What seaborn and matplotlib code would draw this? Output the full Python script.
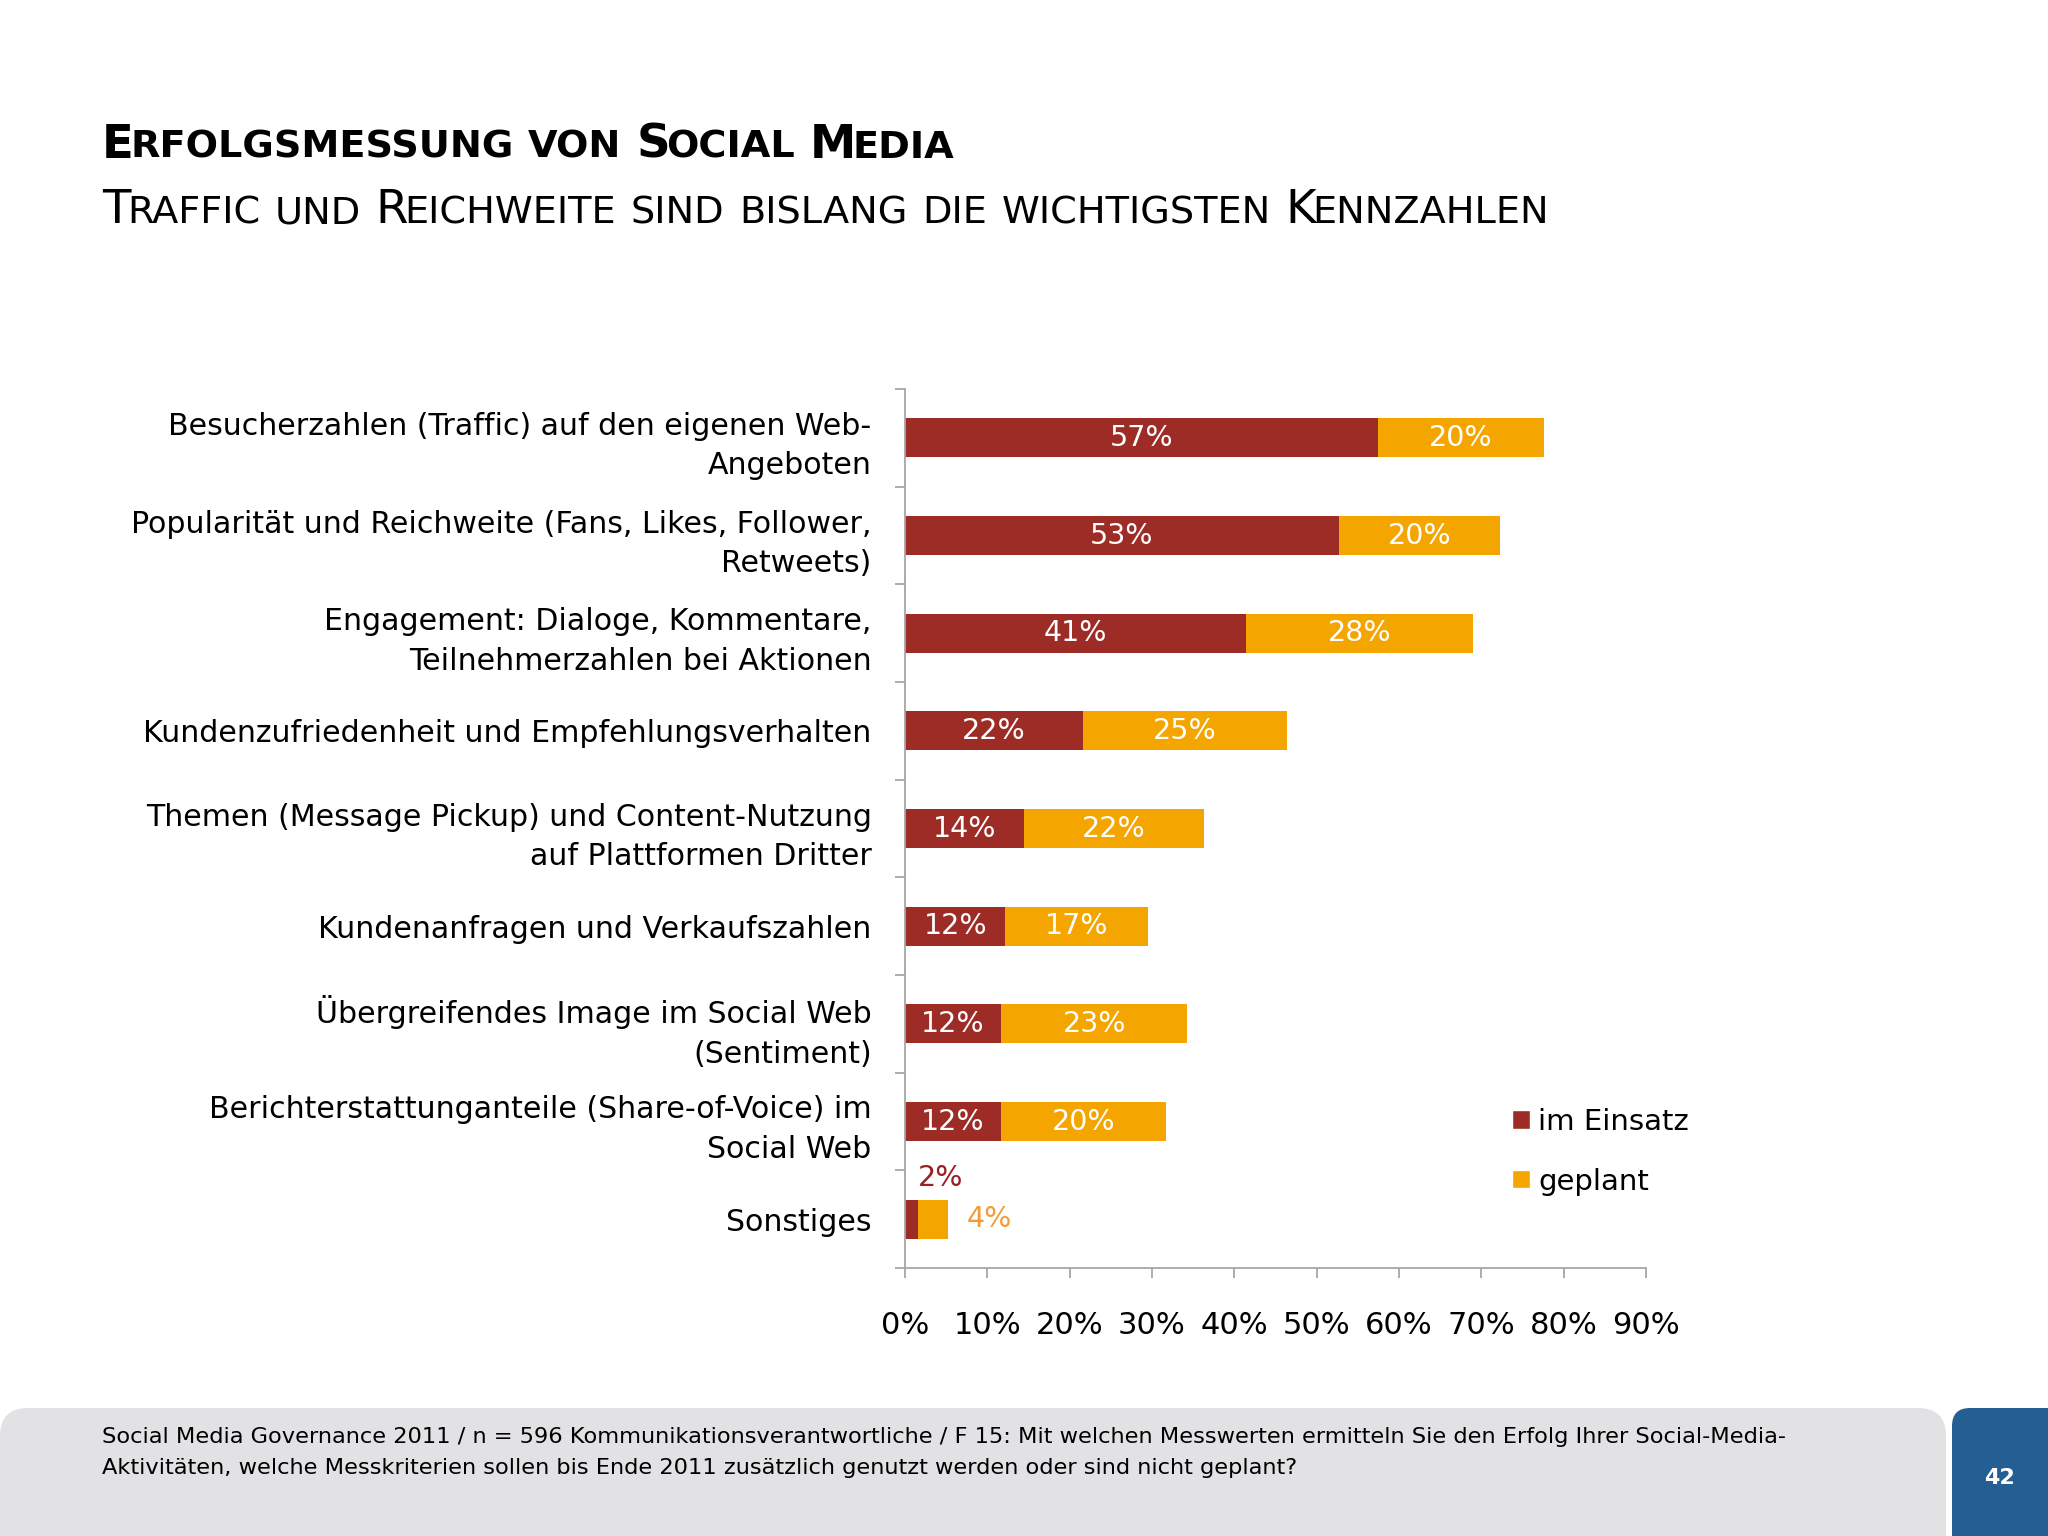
import itertools
import numpy as np
import pandas as pd
import matplotlib.pyplot as plt
import seaborn as sns
from matplotlib.patches import FancyBboxPatch, Patch
from matplotlib.transforms import IdentityTransform


sns.set_style("white")
plt.rcParams["font.family"] = ["DejaVu Sans"]
plt.rcParams["text.color"] = "black"

W, H = 2048, 1536

kennzahlen = [
    "Besucherzahlen (Traffic) auf den eigenen Web-\nAngeboten",
    "Popularität und Reichweite (Fans, Likes, Follower,\nRetweets)",
    "Engagement: Dialoge, Kommentare,\nTeilnehmerzahlen bei Aktionen",
    "Kundenzufriedenheit und Empfehlungsverhalten",
    "Themen (Message Pickup) und Content-Nutzung\nauf Plattformen Dritter",
    "Kundenanfragen und Verkaufszahlen",
    "Übergreifendes Image im Social Web\n(Sentiment)",
    "Berichterstattunganteile (Share-of-Voice) im\nSocial Web",
    "Sonstiges",
]
im_einsatz = [57.4, 52.7, 41.4, 21.6, 14.4, 12.2, 11.7, 11.6, 1.6]
geplant = [20.2, 19.6, 27.6, 24.8, 21.9, 17.3, 22.6, 20.1, 3.6]
x_ticks = list(range(0, 100, 10))

title = "Erfolgsmessung von Social Media"
subtitle = "Traffic und Reichweite sind bislang die wichtigsten Kennzahlen"
footer = [
    "Social Media Governance 2011 / n = 596 Kommunikationsverantwortliche / F 15: "
    "Mit welchen Messwerten ermitteln Sie den Erfolg Ihrer Social-Media-",
    "Aktivitäten, welche Messkriterien sollen bis Ende 2011 zusätzlich genutzt "
    "werden oder sind nicht geplant?",
]
page = "42"

RED = "#9E2C26"
ORANGE = "#F5A500"
GRAY = "#A6A6A6"

df = pd.DataFrame({"Kennzahl": kennzahlen, "im Einsatz": im_einsatz, "geplant": geplant})
df["gesamt"] = df["im Einsatz"] + df["geplant"]

fig = plt.figure(figsize=(W / 100, H / 100), dpi=100)
ax = fig.add_axes([905 / W, 1 - 1268 / H, 741 / W, 879 / H])

sns.barplot(data=df, y="Kennzahl", x="gesamt", color=ORANGE, saturation=1,
            width=0.4, linewidth=0, ax=ax)
sns.barplot(data=df, y="Kennzahl", x="im Einsatz", color=RED, saturation=1,
            width=0.4, linewidth=0, ax=ax)

for i, (r, g) in enumerate(zip(im_einsatz, geplant)):
    if r >= 5:
        ax.text(r / 2, i, f"{r:.0f}%", ha="center", va="center",
                color="white", fontsize=20.5)
        ax.text(r + g / 2, i, f"{g:.0f}%", ha="center", va="center",
                color="white", fontsize=20.5)
    else:
        ax.annotate(f"{r:.0f}%", xy=(r, i), xytext=(16, 30),
                    textcoords="offset points", ha="center", va="center",
                    color="#9C1C22", fontsize=20.5)
        ax.annotate(f"{g:.0f}%", xy=(r + g, i), xytext=(30, 0),
                    textcoords="offset points", ha="center", va="center",
                    color="#F39B3A", fontsize=20.5)

ax.set_xlim(0, 90)
ax.set_xticks(x_ticks, [f"{v}%" for v in x_ticks])
ax.set_yticks(np.arange(len(kennzahlen) + 1) - 0.5, minor=True)
ax.set_xlabel("")
ax.set_ylabel("")
ax.tick_params(axis="x", bottom=True, length=7, width=1.3, color=GRAY,
               labelsize=22, pad=24, labelcolor="black")
ax.tick_params(axis="y", which="minor", left=True, length=7, width=1.3, color=GRAY)
ax.tick_params(axis="y", which="major", length=0, labelsize=21.6, pad=24,
               labelcolor="black")
for lbl in ax.get_yticklabels():
    lbl.set_linespacing(1.45)
for side in ["top", "right"]:
    ax.spines[side].set_visible(False)
for side in ["left", "bottom"]:
    ax.spines[side].set_color(GRAY)
    ax.spines[side].set_linewidth(1.3)

handles = [Patch(facecolor=RED, label="im Einsatz"),
           Patch(facecolor=ORANGE, label="geplant")]
fig.legend(handles=handles, loc="upper left",
           bbox_to_anchor=(1512 / W, 1 - 1108 / H), frameon=False, fontsize=21,
           handlelength=0.6, handleheight=0.6, handletextpad=0.3,
           labelspacing=1.08, borderpad=0, borderaxespad=0)


def small_caps(x_px, y_px, text, size, weight, target_w):
    # fake small caps: capitals at full size, the rest upper-cased and smaller
    renderer = fig.canvas.get_renderer()

    def lay(scale):
        cx = x_px
        texts = []
        space = 0.38 * size * scale * 100 / 72
        for word in text.split(" "):
            for big, run in itertools.groupby(word, key=str.isupper):
                run = "".join(run)
                fs = size * scale * (1 if big else 0.82)
                t = fig.text(cx / W, 1 - y_px / H, run.upper(), fontsize=fs,
                             fontweight=weight, ha="left", va="baseline")
                cx += t.get_window_extent(renderer).width - 0.08 * fs * 100 / 72
                texts.append(t)
            cx += space
        return cx - space - x_px, texts

    w, texts = lay(1.0)
    for t in texts:
        t.remove()
    lay(target_w / w)


small_caps(102, 158, title, 36, "bold", 849)
small_caps(102, 223, subtitle, 36, "normal", 1442)

fig.add_artist(FancyBboxPatch((0, -60), 1946, 188,
                              boxstyle="round,pad=0,rounding_size=28",
                              transform=IdentityTransform(),
                              facecolor="#E2E1E3", edgecolor="none"))
fig.add_artist(FancyBboxPatch((1952, -60), 200, 188,
                              boxstyle="round,pad=0,rounding_size=18",
                              transform=IdentityTransform(),
                              facecolor="#245E92", edgecolor="none"))
fig.text(102 / W, 1 - 1443 / H, footer[0], fontsize=16.2, va="baseline")
fig.text(102 / W, 1 - 1474 / H, footer[1], fontsize=16.2, va="baseline")
fig.text(1999 / W, 1 - 1478 / H, page, fontsize=16, fontweight="bold",
         color="white", ha="center", va="center")

fig.savefig("out.png", dpi=100, facecolor="white")
